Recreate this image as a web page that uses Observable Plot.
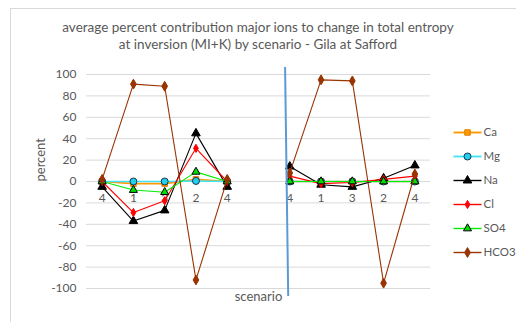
<!DOCTYPE html>
<html><head><meta charset="utf-8">
<script src="https://cdn.jsdelivr.net/npm/d3@7"></script>
<script src="https://cdn.jsdelivr.net/npm/@observablehq/plot@0.6"></script>
<style>
body{margin:0;background:#fff;}
#wrap{position:relative;width:516px;height:322px;overflow:hidden;font-family:Lato,"Open Sans",sans-serif;color:#595959;background:#fff;}
#border{position:absolute;left:10px;top:8px;width:600px;height:400px;border-left:1px solid #d9d9d9;border-top:1px solid #d9d9d9;}
#chart{position:absolute;left:0;top:0;line-height:0;}
#title{position:absolute;left:0;width:516px;top:19px;text-align:center;font-size:13.5px;line-height:17px;white-space:nowrap;}
#legend{position:absolute;left:450px;top:118px;line-height:0;}
</style></head><body>
<div id="wrap"><div id="border"></div><div id="chart"></div><div id="title">average percent contribution major ions to change in total entropy<br>at inversion (MI+K) by scenario - Gila at Safford</div><div id="legend"></div></div>
<script>
// Data
const scenarios = ["4","1","3","2","4","","4","1","3","2","4"];
const Ca   = [0, -2, -2, 2, 0, null, 0, 0, 0, 0, 0];
const Mg   = [0, 0, 0, 0.5, 0, null, 0, 0, 0, 0, 0];
const Na   = [-5, -37, -27, 45, -5, null, 14, -3, -5, 3, 15];
const Cl   = [0, -29, -18, 31, 0, null, 5, -2, -1, 2, 5];
const SO4  = [0, -8, -10, 9, 0, null, 0, 0, 0, 0, 0];
const HCO3 = [2, 91, 89, -92, 2, null, 8, 95, 94, -95, 7];
const seriesNames = ["Ca", "Mg", "Na", "Cl", "SO4", "HCO3"];
const yTicks = [100, 80, 60, 40, 20, 0, -20, -40, -60, -80, -100];
const divider = [{x1: 5.85, y1: 107, x2: 5.95, y2: -107}];

const values = {Ca, Mg, Na, Cl, SO4, HCO3};
const styles = {
  Ca:   {line: "#ff9900", lw: 1.6, symbol: "square",   fill: "#ff9900", stroke: "#e08000", r: 3.1},
  Mg:   {line: "#44e4f4", lw: 1.6, symbol: "circle",   fill: "#22d0ee", stroke: "#1a3550", r: 3.5},
  Na:   {line: "#000000", lw: 1.1, symbol: "triangle", fill: "#000000", stroke: "#000000", r: 3.2},
  Cl:   {line: "#ff0000", lw: 1.1, symbol: "diamond",  fill: "#ff0000", stroke: "#ff0000", r: 2.5},
  SO4:  {line: "#00ee00", lw: 1.1, symbol: "triangle", fill: "#00dd00", stroke: "#000000", r: 3.0},
  HCO3: {line: "#993300", lw: 1.1, symbol: "diamond",  fill: "#993300", stroke: "#993300", r: 3.0}
};

const idx = scenarios.map((s, i) => i);
const labeled = idx.filter(i => scenarios[i] !== "");

const marks = [
  Plot.ruleY(yTicks, {stroke: "#d9d9d9", strokeWidth: 1}),
  Plot.text(yTicks, {y: d => d, frameAnchor: "left", text: d => String(d), textAnchor: "end", dx: -10, fontSize: 12, fill: "#595959"}),
  Plot.text(labeled, {x: i => i, y: () => 0, text: i => scenarios[i], dy: 17, fontSize: 12, fill: "#595959"})
];
for (const name of seriesNames) {
  const st = styles[name];
  const rows = idx.map(i => ({i, v: values[name][i]}));
  marks.push(Plot.line(rows, {x: "i", y: "v", stroke: st.line, strokeWidth: st.lw}));
  marks.push(Plot.dot(rows.filter(d => d.v !== null), {x: "i", y: "v", symbol: () => st.symbol, fill: st.fill, stroke: st.stroke, strokeWidth: 1, r: st.r}));
}
marks.push(Plot.link(divider, {x1: "x1", y1: "y1", x2: "x2", y2: "y2", stroke: "#5b9bd5", strokeWidth: 2}));
marks.push(Plot.text(["scenario"], {text: d => d, frameAnchor: "bottom", dy: 12, fontSize: 13, fill: "#595959"}));
marks.push(Plot.text(["percent"], {text: d => d, frameAnchor: "left", dx: -46, rotate: -90, fontSize: 13, fill: "#595959"}));

const chart = Plot.plot({
  width: 516, height: 322,
  marginTop: 74, marginBottom: 34, marginLeft: 86, marginRight: 86,
  x: {domain: [-0.5, 10.5], axis: null},
  y: {domain: [-100, 100], axis: null},
  symbol: {type: "identity"},
  style: {fontFamily: "Lato, 'Open Sans', sans-serif", background: "transparent", overflow: "visible"},
  marks
});
document.getElementById("chart").appendChild(chart);

// Legend
const lmarks = [];
for (const name of seriesNames) {
  const st = styles[name];
  lmarks.push(Plot.link([name], {x1: () => 0, x2: () => 1, y1: d => d, y2: d => d, stroke: st.line, strokeWidth: st.lw + 0.3}));
  lmarks.push(Plot.dot([name], {x: () => 0.5, y: d => d, symbol: () => st.symbol, fill: st.fill, stroke: st.stroke, strokeWidth: 1, r: st.r}));
  lmarks.push(Plot.text([name], {x: () => 1, y: d => d, text: d => d, textAnchor: "start", dx: 2, fontSize: 11.5, fill: "#595959"}));
}
const legend = Plot.plot({
  width: 66, height: 152, margin: 0,
  x: {domain: [0, 1], range: [3, 31], axis: null},
  y: {type: "point", domain: seriesNames, range: [12, 136], padding: 0, axis: null},
  symbol: {type: "identity"},
  style: {fontFamily: "Lato, 'Open Sans', sans-serif", background: "transparent", overflow: "visible"},
  marks: lmarks
});
document.getElementById("legend").appendChild(legend);
</script>
</body></html>
